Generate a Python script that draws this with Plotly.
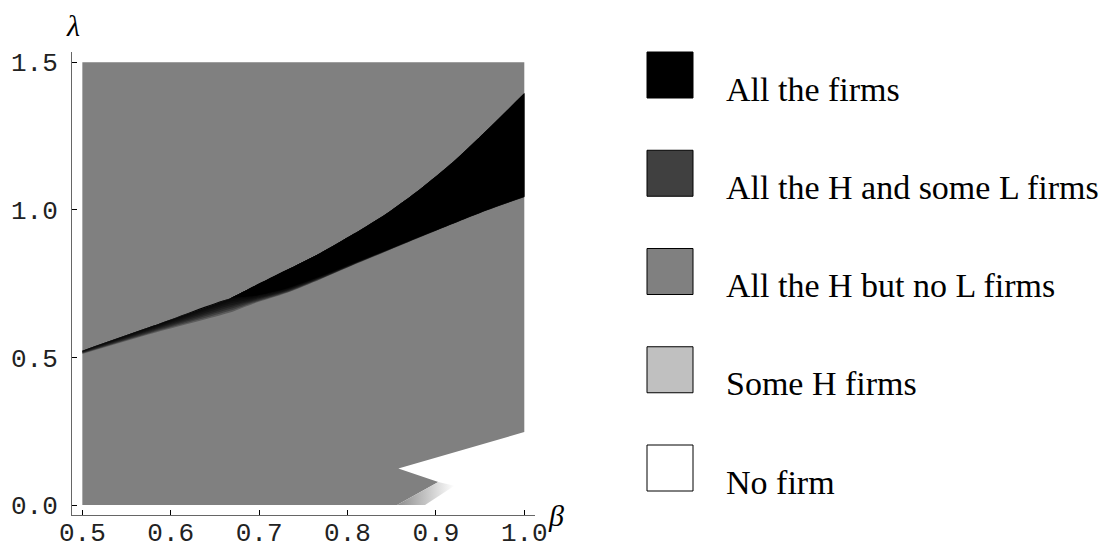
import numpy as np
import plotly.graph_objects as go

# ---------------- data ----------------
x_ticks = [0.5, 0.6, 0.7, 0.8, 0.9, 1.0]
x_ticktext = ["0.5", "0.6", "0.7", "0.8", "0.9", "1.0"]
y_ticks = [0.0, 0.5, 1.0, 1.5]
y_ticktext = ["0.0", "0.5", "1.0", "1.5"]

# "All the H but no L firms" region (gray) outline
gray_beta = [0.5, 0.5, 1.0, 1.0, 0.8575, 0.9027, 0.856]
gray_lam = [0.0, 1.5, 1.5, 0.247, 0.124, 0.078, 0.0]

# transition strip near the "No firm" notch (Some H firms -> No firm)
strip_beta = [0.856, 0.9027, 0.921, 0.8877]
strip_lam = [0.0, 0.078, 0.065, 0.0]

# "All the firms" wedge boundaries
edge_beta = [0.5, 0.58, 0.667, 0.6934, 0.731, 0.7689, 0.8066, 0.8443, 0.882, 0.9197, 0.9575, 1.0]
upper_lam = [0.523, 0.607, 0.700, 0.740, 0.796, 0.853, 0.918, 0.988, 1.070, 1.163, 1.270, 1.395]
lower_lam = [0.523, 0.607, 0.700, 0.708, 0.734, 0.774, 0.819, 0.864, 0.910, 0.955, 1.000, 1.045]
# lower edge of the "All the H and some L firms" sliver
sliver_lam = [0.512, 0.582, 0.652, 0.682, 0.718, 0.764, 0.813, 0.860, 0.907, 0.953, 0.998, 1.043]

legend_labels = ["All the firms", "All the H and some L firms",
                 "All the H but no L firms", "Some H firms", "No firm"]
legend_colors = ["#000000", "#404040", "#808080", "#c0c0c0", "#ffffff"]

# ---------------- figure ----------------
# the page body has an 8px margin, so the figure is 8px smaller than the window
OFF = 8
W, H = 1108 - OFF, 551 - OFF
ML, MR, MT, MB = 72 - OFF, 573, 52 - OFF, 36
PW, PH = W - ML - MR, H - MT - MB


def px_x(p):  # p: window pixel (reference coordinates)
    return (p - OFF - ML) / PW


def px_y(p):
    return (H - MB - (p - OFF)) / PH


fig = go.Figure()

# gray region
fig.add_trace(go.Scatter(x=gray_beta, y=gray_lam, fill="toself",
                         fillcolor="#808080", mode="lines",
                         line=dict(width=0, color="#808080"),
                         hoverinfo="skip", showlegend=False))

eb = np.array(edge_beta)
up = np.array(upper_lam)
lo = np.array(lower_lam)
sl = np.array(sliver_lam)


def band(lower, color):
    fig.add_trace(go.Scatter(x=eb, y=lower, mode="lines",
                             line=dict(width=0, shape="spline", smoothing=0.7),
                             hoverinfo="skip", showlegend=False))
    fig.add_trace(go.Scatter(x=eb, y=up, mode="lines", fill="tonexty",
                             fillcolor=color,
                             line=dict(width=0, shape="spline", smoothing=0.7),
                             hoverinfo="skip", showlegend=False))


# sliver (dark fading band) as stacked translucent layers
N = 8
for k in range(1, N + 1):
    band(lo + (sl - lo) * k / N, "rgba(0,0,0,0.28)")

# black wedge
band(lo, "#000000")

# light strip with gradient
fig.add_trace(go.Scatter(x=strip_beta, y=strip_lam, fill="toself",
                         fillgradient=dict(type="horizontal",
                                           colorscale=[[0, "#8c8c8c"], [0.5, "#c4c4c4"], [1, "#ffffff"]]),
                         mode="lines", line=dict(width=0),
                         hoverinfo="skip", showlegend=False))

tickfont = dict(family="Liberation Mono", size=26, color="#222222")
fig.update_xaxes(range=[0.4883, 1.0121], tickvals=x_ticks, ticktext=x_ticktext,
                 showline=True, linecolor="#666666", linewidth=1,
                 ticks="inside", ticklen=5, tickcolor="black", tickwidth=1,
                 showgrid=False, zeroline=False, tickfont=tickfont,
                 automargin=False, ticklabelstandoff=-6)
fig.update_yaxes(range=[-0.0339, 1.535], tickvals=y_ticks, ticktext=y_ticktext,
                 showline=True, linecolor="#666666", linewidth=1,
                 ticks="inside", ticklen=5, tickcolor="black", tickwidth=1,
                 showgrid=False, zeroline=False, tickfont=tickfont,
                 ticklabelstandoff=8, automargin=False)

annotations = [
    dict(text="<i>λ</i>", x=px_x(73), y=px_y(26), xref="paper", yref="paper",
         xanchor="center", yanchor="middle",
         showarrow=False, font=dict(family="Liberation Serif", size=30, color="black")),
    dict(text="<i>β</i>", x=px_x(556), y=px_y(516), xref="paper", yref="paper",
         xanchor="center", yanchor="middle",
         showarrow=False, font=dict(family="Liberation Serif", size=30, color="black")),
]
shapes = []
sw = 46
step = 98.25
for i, (lab, col) in enumerate(zip(legend_labels, legend_colors)):
    top = 52 + i * step
    shapes.append(dict(type="rect", xref="paper", yref="paper",
                       x0=px_x(647), x1=px_x(647 + sw), y0=px_y(top + sw), y1=px_y(top),
                       fillcolor=col, line=dict(color="black", width=1)))
    annotations.append(dict(text=lab, x=px_x(724), y=px_y(top + 37),
                            xref="paper", yref="paper", xanchor="left", yanchor="middle",
                            showarrow=False,
                            font=dict(family="Liberation Serif", size=34, color="black")))

fig.update_layout(width=W, height=H, margin=dict(l=ML, r=MR, t=MT, b=MB, autoexpand=False),
                  plot_bgcolor="white", paper_bgcolor="white",
                  annotations=annotations, shapes=shapes, showlegend=False)

fig.write_html("out.html")
